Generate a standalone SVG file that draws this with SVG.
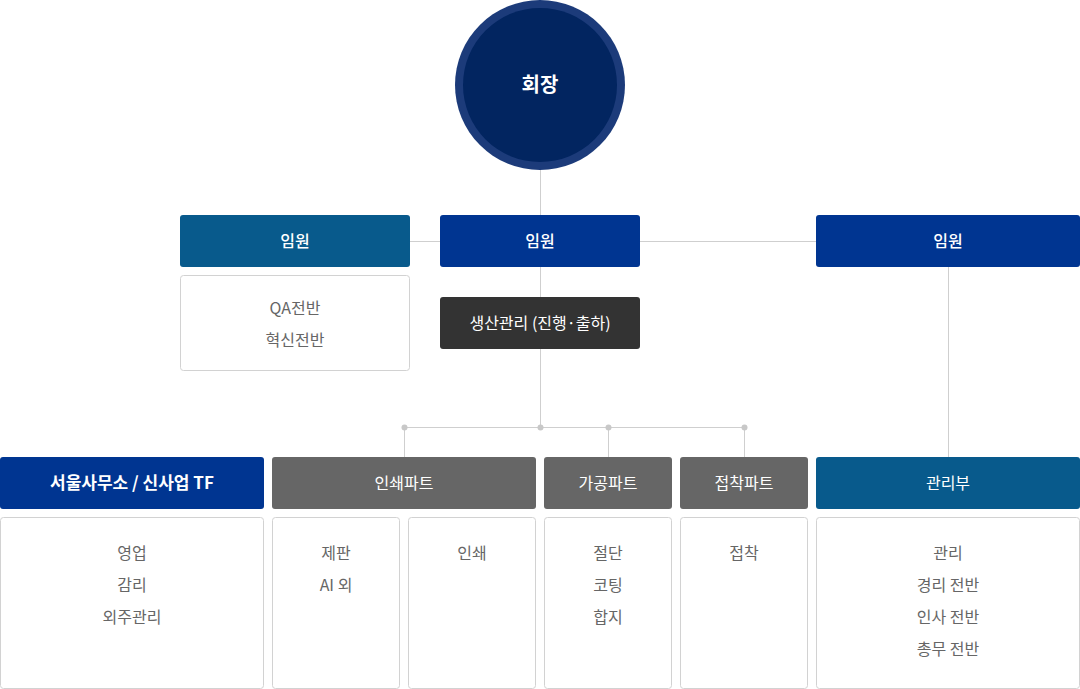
<svg xmlns="http://www.w3.org/2000/svg" width="1080" height="689" viewBox="0 0 1080 689">
<style>
.h{fill:#fff;font-family:"Noto Sans CJK KR","Noto Sans",sans-serif;font-size:16px;font-weight:500;text-anchor:middle}
.t{fill:#666;font-family:"Noto Sans CJK KR","Noto Sans",sans-serif;font-size:16px;text-anchor:middle}
.box{fill:#fff;stroke:#d2d2d2;stroke-width:1}
.ln{stroke:#cfcfcf;stroke-width:1;fill:none}
.dot{fill:#c8c8c8}
.navy{fill:#003591}
.teal{fill:#085a8c}
.gray{fill:#666}
.dark{fill:#333}
</style>
<g id="connectors">
<path class="ln" d="M540.5 170V215M410 241.5H440M640 241.5H816M540.5 267V297M540.5 349V427M948.5 267V457M404 427.5H744M404.5 427V457M608.5 427V457M744.5 427V457"/>
<circle class="dot" cx="404.5" cy="427.5" r="3"/>
<circle class="dot" cx="540.5" cy="427.5" r="3"/>
<circle class="dot" cx="608.5" cy="427.5" r="3"/>
<circle class="dot" cx="744.5" cy="427.5" r="3"/>
</g>
<g id="ceo">
<circle cx="540" cy="85" r="85" fill="#1c3b7a"/>
<circle cx="540" cy="85" r="77" fill="#022560"/>
<text x="540" y="92" class="h" style="font-size:20px;font-weight:700">회장</text>
</g>
<g id="exec-left">
<rect x="180" y="215" width="230" height="52" rx="3" class="teal"/>
<text x="295" y="247" class="h">임원</text>
</g>
<g id="exec-left-detail">
<rect x="180.5" y="275.5" width="229" height="95" rx="3" class="box"/>
<text x="295" y="314" class="t">QA전반</text>
<text x="295" y="346" class="t">혁신전반</text>
</g>
<g id="exec-center">
<rect x="440" y="215" width="200" height="52" rx="3" class="navy"/>
<text x="540" y="247" class="h">임원</text>
</g>
<g id="production">
<rect x="440" y="297" width="200" height="52" rx="3" class="dark"/>
<text x="540" y="329" class="h" style="font-weight:400">생산관리 (진행·출하)</text>
</g>
<g id="exec-right">
<rect x="816" y="215" width="264" height="52" rx="3" class="navy"/>
<text x="948" y="247" class="h">임원</text>
</g>
<g id="seoul">
<rect x="0" y="457" width="264" height="52" rx="3" class="navy"/>
<text x="132" y="489" class="h" style="font-weight:700;font-size:17px">서울사무소 / 신사업 TF</text>
</g>
<g id="seoul-detail">
<rect x="0.5" y="517.5" width="263" height="171" rx="3" class="box"/>
<text x="132" y="559" class="t">영업</text>
<text x="132" y="591" class="t">감리</text>
<text x="132" y="623" class="t">외주관리</text>
</g>
<g id="print">
<rect x="272" y="457" width="264" height="52" rx="3" class="gray"/>
<text x="404" y="489" class="h" style="font-weight:400">인쇄파트</text>
</g>
<g id="print-detail-1">
<rect x="272.5" y="517.5" width="127" height="171" rx="3" class="box"/>
<text x="336" y="559" class="t">제판</text>
<text x="336" y="591" class="t">AI 외</text>
</g>
<g id="print-detail-2">
<rect x="408.5" y="517.5" width="127" height="171" rx="3" class="box"/>
<text x="472" y="559" class="t">인쇄</text>
</g>
<g id="process">
<rect x="544" y="457" width="128" height="52" rx="3" class="gray"/>
<text x="608" y="489" class="h" style="font-weight:400">가공파트</text>
</g>
<g id="process-detail">
<rect x="544.5" y="517.5" width="127" height="171" rx="3" class="box"/>
<text x="608" y="559" class="t">절단</text>
<text x="608" y="591" class="t">코팅</text>
<text x="608" y="623" class="t">합지</text>
</g>
<g id="bond">
<rect x="680" y="457" width="128" height="52" rx="3" class="gray"/>
<text x="744" y="489" class="h" style="font-weight:400">접착파트</text>
</g>
<g id="bond-detail">
<rect x="680.5" y="517.5" width="127" height="171" rx="3" class="box"/>
<text x="744" y="559" class="t">접착</text>
</g>
<g id="admin">
<rect x="816" y="457" width="264" height="52" rx="3" class="teal"/>
<text x="948" y="489" class="h" style="font-weight:400">관리부</text>
</g>
<g id="admin-detail">
<rect x="816.5" y="517.5" width="263" height="171" rx="3" class="box"/>
<text x="948" y="559" class="t">관리</text>
<text x="948" y="591" class="t">경리 전반</text>
<text x="948" y="623" class="t">인사 전반</text>
<text x="948" y="655" class="t">총무 전반</text>
</g>
</svg>
